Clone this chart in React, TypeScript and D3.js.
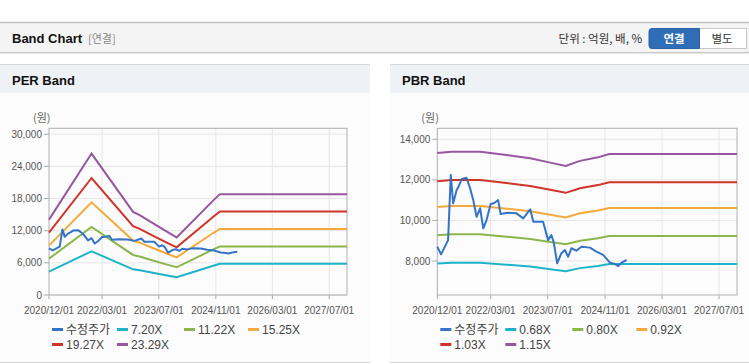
import React from "react";
import * as d3 from "d3";

// ---- data ----
const priceDates = [
  "2020-12-01","2021-01-02","2021-03-03","2021-03-26","2021-04-15","2021-05-15","2021-06-03","2021-06-28",
  "2021-08-07","2021-09-06","2021-10-04","2021-11-01","2021-12-01","2021-12-28","2022-01-25","2022-03-01",
  "2022-03-28","2022-05-04","2022-05-25","2022-07-25","2022-10-07","2022-12-04","2023-02-01","2023-02-28",
  "2023-05-22","2023-07-04","2023-08-01","2023-08-22","2023-09-19","2023-10-25","2023-11-24","2023-12-22",
  "2024-01-19","2024-03-01","2024-04-13","2024-06-25","2024-08-19","2024-10-15","2024-12-13","2025-01-25",
  "2025-02-21","2025-03-21","2025-05-04",
];
const priceValues = [
  8700, 8330, 9030, 12240, 10840, 11500, 11700, 12050,
  12100, 11600, 11000, 10180, 10600, 9610, 10020, 10810,
  10850, 11000, 10320, 10380, 10350, 10100, 10550, 9940,
  9940, 9030, 9280, 8900, 7890, 8380, 8540, 8210,
  8630, 8510, 8700, 8660, 8460, 8300, 7920, 7850,
  7750, 7920, 8050,
];

const epsDates = ["2020-12-01","2021-12-01","2022-11-22","2023-01-18","2023-05-10","2023-10-03","2023-12-01","2024-10-10","2024-12-06","2027-12-01"];
const epsValues = [604, 1133, 666, 640, 575, 493, 461, 758, 808, 808];
const perMultiples = [7.2, 11.22, 15.25, 19.27, 23.29];
const perLabels = ["7.20X", "11.22X", "15.25X", "19.27X", "23.29X"];
const perTicks = [0, 6000, 12000, 18000, 24000, 30000];

const bpsDates = ["2020-12-01","2021-04-01","2021-12-01","2022-07-15","2023-02-01","2023-07-22","2023-12-01","2024-04-01","2024-09-01","2024-12-06","2027-12-01"];
const bpsValues = [11590, 11643, 11643, 11502, 11360, 11174, 11030, 11250, 11400, 11540, 11540];
const pbrMultiples = [0.68, 0.8, 0.92, 1.03, 1.15];
const pbrLabels = ["0.68X", "0.80X", "0.92X", "1.03X", "1.15X"];
const pbrTicks = [8000, 10000, 12000, 14000];

const xTickDates = ["2020-12-01","2022-03-01","2023-07-01","2024-11-01","2026-03-01","2027-07-01"];
const xTickLabels = ["2020/12/01","2022/03/01","2023/07/01","2024/11/01","2026/03/01","2027/07/01"];
const xDomain = ["2020-12-01", "2027-12-01"];

const priceLabel = "수정주가";
const priceColor = "#3474c6";
const bandColors = ["#1fb3c9", "#8cb54b", "#f3aa3c", "#cf3429", "#9657a0"];

const parse = d3.timeParse("%Y-%m-%d");
const FONT = "'Liberation Sans', Arial, 'Noto Sans CJK KR', sans-serif";
const KFONT = "'Noto Sans CJK KR', 'Liberation Sans', sans-serif";

type PanelProps = {
  px: number; title: string; plotL: number; plotR: number;
  yMin: number; yMax: number; ticks: number[];
  baseDates: string[]; baseValues: number[]; multiples: number[]; labels: string[];
};

function Panel(p: PanelProps) {
  const top = 128.3, bottom = 295;
  const x = d3.scaleTime().domain(xDomain.map((d) => parse(d) as Date)).range([p.plotL, p.plotR]);
  const y = d3.scaleLinear().domain([p.yMin, p.yMax]).range([bottom, top]);
  const line = d3.line<[Date, number]>().x((d) => x(d[0])).y((d) => y(d[1]));
  const base = p.baseDates.map((d, i) => [parse(d) as Date, p.baseValues[i]] as [Date, number]);
  const price = priceDates.map((d, i) => [parse(d) as Date, priceValues[i]] as [Date, number]);
  const fmt = d3.format(",");
  const legendCols = [3, 68, 135, 199];
  const legendItems = [priceLabel, ...p.labels];
  const legendColors = [priceColor, ...bandColors];
  return (
    <g>
      <rect x={p.px} y={64} width={p.px === 0 ? 370 : 359} height={299} fill="#fcfcfc" />
      <rect x={p.px} y={64} width={p.px === 0 ? 370 : 359} height={29} fill="#eef1f6" />
      <line x1={p.px} x2={p.px + (p.px === 0 ? 370 : 359)} y1={64.5} y2={64.5} stroke="#d6d6d6" />
      <line x1={p.px} x2={p.px + (p.px === 0 ? 370 : 359)} y1={362.5} y2={362.5} stroke="#d6d6d6" />
      <text x={p.px + 12} y={85} fontFamily={FONT} fontWeight="bold" fontSize={13} fill="#111">{p.title}</text>
      <text x={p.plotL - 16} y={122} fontFamily={KFONT} fontSize={11} fill="#666">(원)</text>
      {p.ticks.map((t) => (
        <g key={t}>
          <line x1={p.plotL} x2={p.plotR} y1={y(t)} y2={y(t)} stroke="#e6e6e6" />
          <line x1={p.plotL - 5} x2={p.plotL} y1={y(t)} y2={y(t)} stroke="#aaa" />
          <text x={p.plotL - 7} y={y(t) + 3.5} textAnchor="end" fontFamily={FONT} fontSize={10} fill="#555">{fmt(t)}</text>
        </g>
      ))}
      {xTickDates.map((d, i) => {
        const xv = x(parse(d) as Date);
        return (
          <g key={d}>
            {i > 0 && <line x1={xv} x2={xv} y1={top} y2={bottom} stroke="#e6e6e6" />}
            <line x1={xv} x2={xv} y1={bottom} y2={bottom + 4} stroke="#aaa" />
            <text x={xv} y={314} textAnchor="middle" fontFamily={FONT} fontSize={10} fill="#555">{xTickLabels[i]}</text>
          </g>
        );
      })}
      <rect x={p.plotL} y={top} width={p.plotR - p.plotL} height={bottom - top} fill="none" stroke="#b0b0b0" />
      {p.multiples.map((m, i) => (
        <path key={i} d={line(base.map((b) => [b[0], b[1] * m] as [Date, number])) || ""} fill="none" stroke={bandColors[i]} strokeWidth={2} />
      ))}
      <path d={line(price) || ""} fill="none" stroke={priceColor} strokeWidth={2} strokeLinejoin="round" />
      {legendItems.map((lab, i) => {
        const row = i < 4 ? 0 : 1;
        const col = i < 4 ? i : i - 4;
        const lx = p.plotL + legendCols[col];
        const ly = row === 0 ? 329.5 : 344.5;
        return (
          <g key={lab}>
            <line x1={lx} x2={lx + 11} y1={ly} y2={ly} stroke={legendColors[i]} strokeWidth={3} />
            <text x={lx + 14} y={ly + 4.5} fontFamily={i === 0 ? KFONT : FONT} fontSize={12} fill="#444">{lab}</text>
          </g>
        );
      })}
    </g>
  );
}

export default function App() {
  return (
    <svg width={749} height={364} style={{ position: "absolute", left: 0, top: 0, background: "#fff" }}>
      <rect x={0} y={0} width={749} height={364} fill="#fff" />
      <rect x={0} y={22} width={749} height={31} fill="#f4f4f4" />
      <line x1={0} x2={749} y1={22.5} y2={22.5} stroke="#bdbdbd" strokeWidth={1.5} />
      <line x1={0} x2={749} y1={52.5} y2={52.5} stroke="#c8c8c8" />
      <line x1={0} x2={749} y1={53.5} y2={53.5} stroke="#e6e6e6" />
      <text x={12} y={43} fontFamily={FONT} fontWeight="bold" fontSize={13} fill="#111">Band Chart</text>
      <text x={88} y={43} fontFamily={KFONT} fontSize={11} fill="#888">[연결]</text>
      <text x={642} y={43} textAnchor="end" fontFamily={KFONT} fontSize={11.5} fill="#333">단위 : 억원, 배, %</text>
      <rect x={699.5} y={28.5} width={47} height={20} fill="#fff" stroke="#c8c8c8" />
      <path d="M699.5,28.5 H652 a3,3 0 0 0 -3,3 V45.5 a3,3 0 0 0 3,3 H699.5 Z" fill="#2f6db6" stroke="#2a62a5" />
      <text x={674} y={43} textAnchor="middle" fontFamily={KFONT} fontWeight="bold" fontSize={11.5} fill="#fff">연결</text>
      <text x={722} y={43} textAnchor="middle" fontFamily={KFONT} fontSize={11.5} fill="#333">별도</text>
      <Panel px={0} title="PER Band" plotL={49} plotR={347} yMin={0} yMax={31100} ticks={perTicks}
        baseDates={epsDates} baseValues={epsValues} multiples={perMultiples} labels={perLabels} />
      <Panel px={390} title="PBR Band" plotL={437.3} plotR={737} yMin={6325} yMax={14542} ticks={pbrTicks}
        baseDates={bpsDates} baseValues={bpsValues} multiples={pbrMultiples} labels={pbrLabels} />
    </svg>
  );
}
